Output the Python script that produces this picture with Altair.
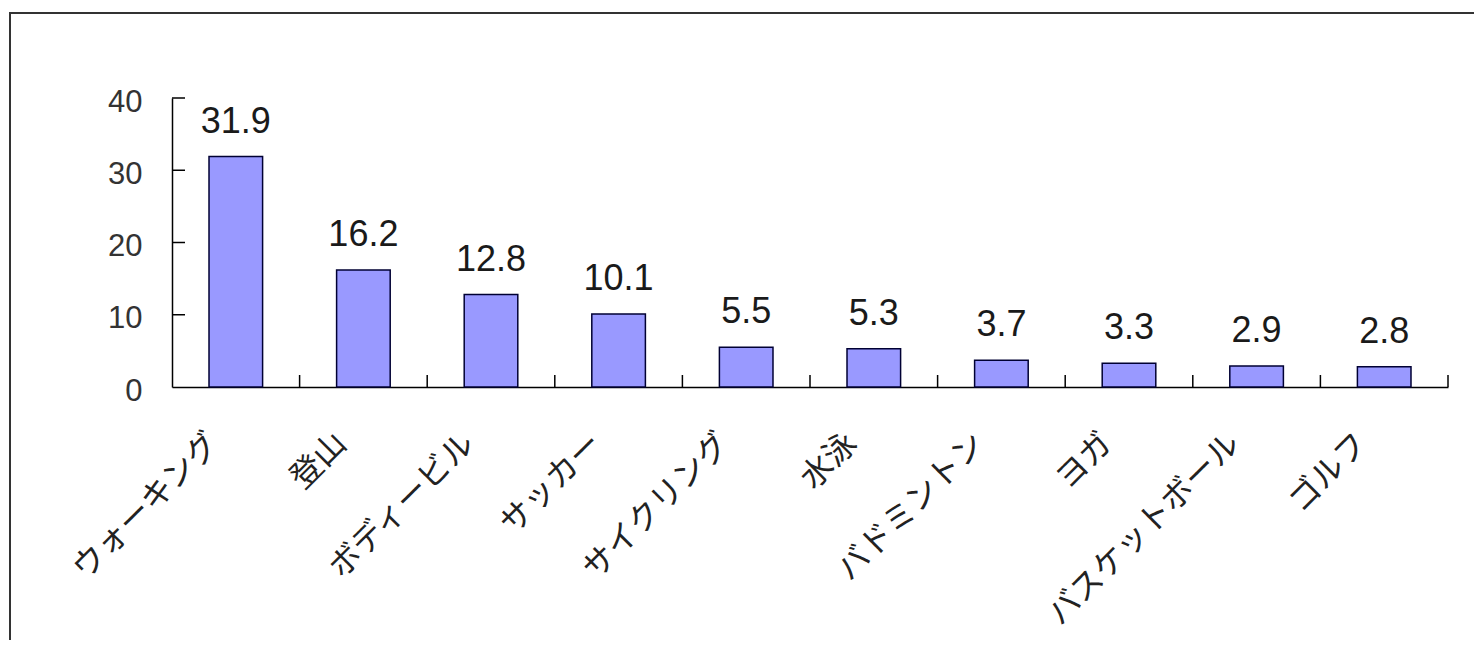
import altair as alt
import pandas as pd

categories = ["ウォーキング", "登山", "ボディービル", "サッカー", "サイクリング",
              "水泳", "バドミントン", "ヨガ", "バスケットボール", "ゴルフ"]
values = [31.9, 16.2, 12.8, 10.1, 5.5, 5.3, 3.7, 3.3, 2.9, 2.8]
y_ticks = [0, 10, 20, 30, 40]

df = pd.DataFrame({"sport": categories, "value": values})
tick_df = pd.DataFrame({"t": y_ticks[1:]})
one = pd.DataFrame({"a": [0]})

W, H = 1276, 289
xscale = alt.Scale(domain=categories, paddingInner=0, paddingOuter=0)
yscale = alt.Scale(domain=[0, 40])

x_enc = alt.X("sport:N", scale=xscale, sort=categories,
              axis=alt.Axis(title=None, labelAngle=-45, labelAlign="right",
                            labelBaseline="middle", labelFont="Noto Sans CJK JP",
                            labelFontSize=32, labelColor="#222", labelPadding=51,
                            labelOffset=-22, labelLimit=600, ticks=False,
                            domainColor="#000", domainWidth=1.5))
y_enc = alt.Y("value:Q", scale=yscale,
              axis=alt.Axis(title=None, values=y_ticks, ticks=False, grid=False,
                            labelFontSize=31, labelFont="Liberation Sans",
                            labelColor="#333", labelPadding=30, labelOffset=4,
                            domainColor="#000", domainWidth=1.5))

bars = alt.Chart(df).mark_bar(
    width=alt.RelativeBandSize(0.42), color="#9999FF",
    stroke="#000033", strokeWidth=1.5
).encode(x=x_enc, y=y_enc)

labels = alt.Chart(df).mark_text(
    dy=-16, baseline="bottom", fontSize=36, font="Liberation Sans", color="#1a1a1a"
).encode(
    x=alt.X("sport:N", scale=xscale, sort=categories),
    y=alt.Y("value:Q", scale=yscale),
    text=alt.Text("value:Q", format=".1f"),
)

xticks = alt.Chart(df).mark_rule(color="#000", strokeWidth=1.5).encode(
    x=alt.X("sport:N", scale=xscale, sort=categories, bandPosition=1),
    y=alt.value(H), y2=alt.value(H - 12),
)

yticks = alt.Chart(tick_df).mark_rule(color="#000", strokeWidth=1.5).encode(
    y=alt.Y("t:Q", scale=yscale), x=alt.value(0), x2=alt.value(13),
)

frame = alt.Chart(one).mark_rect(
    fillOpacity=0, stroke="#333", strokeWidth=2
).encode(
    x=alt.value(-162), x2=alt.value(1304), y=alt.value(-85), y2=alt.value(560)
)

chart = alt.layer(frame, bars, labels, xticks, yticks).properties(
    width=W, height=H,
    autosize=alt.AutoSizeParams(type="none"),
    padding={"left": 164, "top": 90, "right": 26, "bottom": 253},
    background="white",
).configure_view(stroke=None)

chart.save("out.html", embed_options={"renderer": "svg", "actions": False})
